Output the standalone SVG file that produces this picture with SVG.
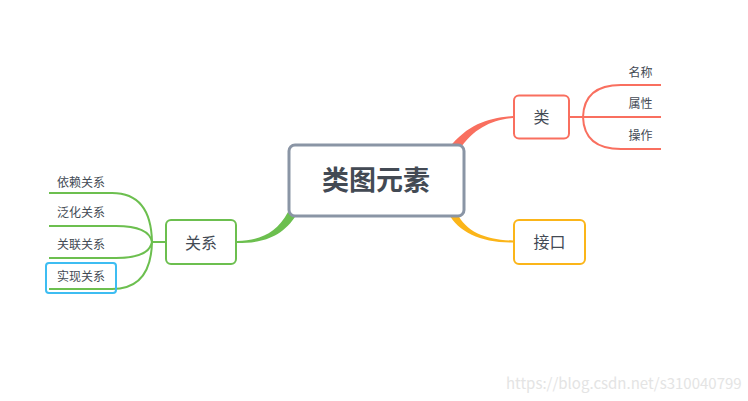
<svg xmlns="http://www.w3.org/2000/svg" width="748" height="401" viewBox="0 0 748 401">
<style>
text{font-family:"Noto Sans CJK SC","Noto Sans",sans-serif;fill:#434a54}
.sub{font-size:12px}
.br{fill:none;stroke-width:2}
.red{stroke:#f96f5f}
.grn{stroke:#6cbf4f}
</style>
<rect width="748" height="401" fill="#fff"/>
<g id="connectors">
<path d="M449,148 C468,124 488,118 513,116 L513,118 C492,120 474,128 459,150 Z" fill="#f96f5f"/>
<path d="M449,214 C458,232 482,243 513,242.5 L513,240.5 C486,240 466,232 457,213 Z" fill="#fbb519"/>
<path d="M237,241 C260,240 276,234 288,212 L297,214 C282,238 262,243 237,243 Z" fill="#6cbf4f"/>
<g class="br red">
<path d="M569,117 H661"/>
<path d="M583,117 Q584,85 621,85 H661"/>
<path d="M583,117 Q584,149 621,149 H661"/>
</g>
<g class="br grn">
<path d="M166,242 H152"/>
<path d="M152,242 Q151,193 112,193 H49"/>
<path d="M152,242 Q149,226 116,226 H49"/>
<path d="M152,242 Q149,258 116,258 H49"/>
<path d="M152,242 Q151,289 112,289 H49"/>
</g>
</g>
<g id="root">
<rect x="289" y="145" width="175" height="71" rx="6" fill="#fff" stroke="#8a95a5" stroke-width="3"/>
<text x="376" y="190" text-anchor="middle" font-size="27" font-weight="bold">类图元素</text>
</g>
<g id="class">
<rect x="514" y="95.5" width="55" height="43" rx="5" fill="#fff" stroke="#f96f5f" stroke-width="2"/>
<text x="541.5" y="123" text-anchor="middle" font-size="16">类</text>
</g>
<g id="class-name"><text class="sub" x="640.5" y="76.5" text-anchor="middle">名称</text></g>
<g id="class-attr"><text class="sub" x="640.5" y="108" text-anchor="middle">属性</text></g>
<g id="class-op"><text class="sub" x="640.5" y="139.5" text-anchor="middle">操作</text></g>
<g id="interface">
<rect x="514" y="220" width="71" height="44" rx="5" fill="#fff" stroke="#fbb519" stroke-width="2"/>
<text x="549.5" y="248" text-anchor="middle" font-size="16">接口</text>
</g>
<g id="relation">
<rect x="166" y="220" width="70" height="44" rx="5" fill="#fff" stroke="#6cbf4f" stroke-width="2"/>
<text x="201" y="248.5" text-anchor="middle" font-size="16">关系</text>
</g>
<g id="dependency"><text class="sub" x="57" y="187">依赖关系</text></g>
<g id="generalization"><text class="sub" x="57" y="216.5">泛化关系</text></g>
<g id="association"><text class="sub" x="57" y="249">关联关系</text></g>
<g id="realization">
<rect x="46" y="263" width="70" height="30" rx="3" fill="none" stroke="#3dbdf2" stroke-width="2"/>
<text class="sub" x="57" y="281">实现关系</text>
</g>
<text x="506" y="389" font-family="Liberation Sans,Arial,sans-serif" font-size="15" style="fill:#e4e4e4">https://blog.csdn.net/s310040799</text>
</svg>
